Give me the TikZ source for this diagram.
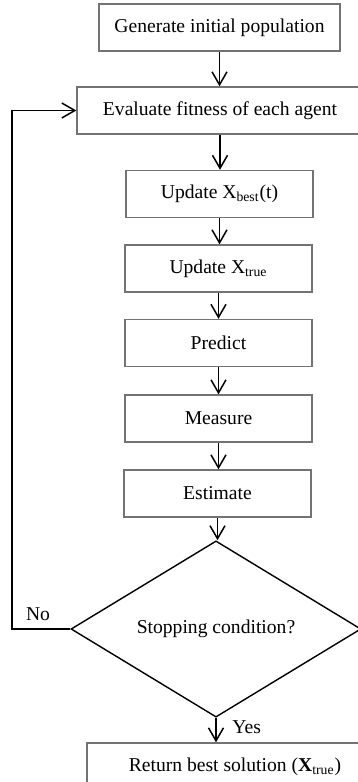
\documentclass[tikz,border=0pt]{standalone}
\usepackage{fontspec}
\setmainfont{Liberation Serif}
\usepackage{tikz}
\usetikzlibrary{arrows.meta,shapes.geometric}
\definecolor{boxgray}{RGB}{115,115,115}
\tikzset{
  procbox/.style={draw=boxgray, line width=0.7pt, minimum height=23.5pt, inner sep=0pt},
  decision/.style={diamond, draw=black, line width=0.7pt, minimum width=145pt, minimum height=77pt, inner sep=0pt},
  flowArrow/.style={-{Straight Barb[length=6.5pt,width=7.5pt,line width=0.75pt]}, line width=0.75pt},
  lbl/.style={inner sep=0pt}
}

\begin{document}
\begin{tikzpicture}[x=0.5pt, y=-0.5pt, font=\fontsize{9.8}{12}\selectfont]
  \useasboundingbox (0,0) rectangle (358,782);
  % process steps
  \node[procbox, minimum width=120.5pt] (gen) at (219.5,27.5) {Generate initial population};
  \node[procbox, minimum width=143pt] (eval) at (220,110.5) {Evaluate fitness of each agent};
  \node[procbox, minimum width=93.5pt] (best) at (219.5,194) {Update X\textsubscript{best}(t)};
  \node[procbox, minimum width=93.5pt] (true) at (218.5,268.5) {Update X\textsubscript{true}};
  \node[procbox, minimum width=93.5pt] (pred) at (218.5,343) {Predict};
  \node[procbox, minimum width=93.5pt] (meas) at (218.5,418.5) {Measure};
  \node[procbox, minimum width=93.5pt] (est) at (217.5,493.5) {Estimate};
  % test and result
  \node[decision] (stop) at (216,629) {Stopping condition?};
  \node[procbox, minimum width=148pt] (ret) at (235,766.5) {Return best solution (\textbf{X}\textsubscript{true})};
  % arrows down the chain
  \foreach \a/\b in {gen/eval, eval/best, best/true, true/pred, pred/meas, meas/est, est/stop, stop/ret}
    \draw[flowArrow] (\a.south) -- (\a.south |- \b.north);
  \node[lbl, anchor=west] (yes) at (232,727) {Yes};
  % loop back when not done
  \coordinate (turn) at (12,629);
  \draw[flowArrow] (stop.west) -- (turn) |- (eval.west);
  \node[lbl] (no) at (38,614) {No};
\end{tikzpicture}
\end{document}
